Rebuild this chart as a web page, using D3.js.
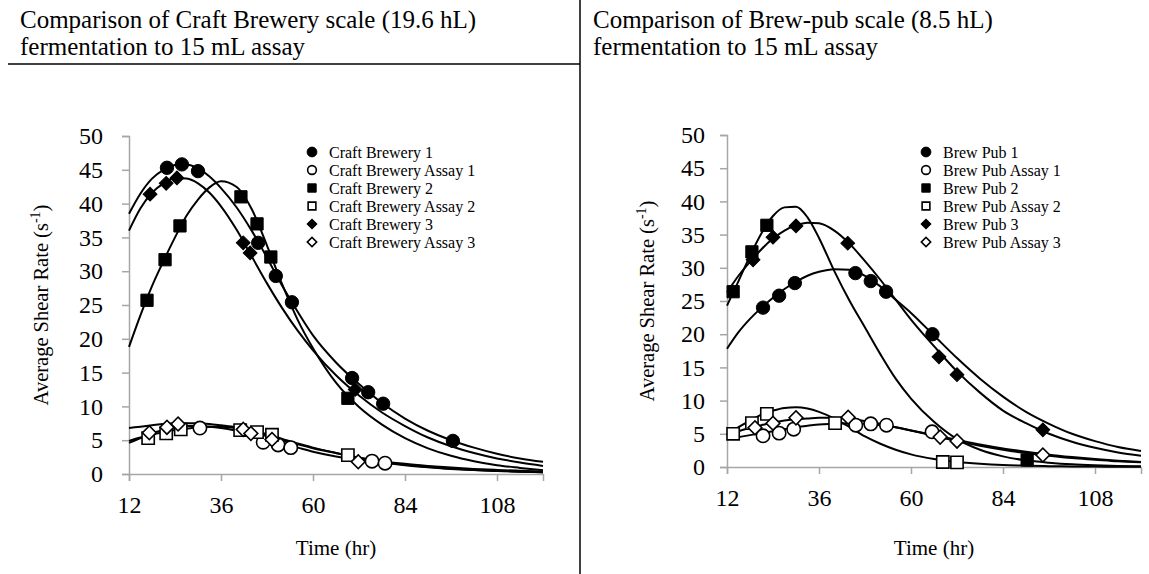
<!DOCTYPE html>
<html>
<head>
<meta charset="utf-8">
<script src="https://cdn.jsdelivr.net/npm/d3@7"></script>
<style>
  body { margin: 0; background: #fff; }
  svg text { font-family: "Liberation Serif", "Times New Roman", serif; fill: #000; }
</style>
</head>
<body>
<div id="container"></div>
<script>
// time axis ticks and fitted-curve sample times (hr)
var xTicks = [12, 36, 60, 84, 108];
var yTicks = [0, 5, 10, 15, 20, 25, 30, 35, 40, 45, 50];
var fitTimes = [12, 15, 18, 21, 24, 27, 30, 33, 36, 40, 44, 48, 52, 56, 60, 66, 72, 78, 84, 90, 96, 102, 108, 114, 120];

// ---- Craft brewery panel ----
var craftNames = ["Craft Brewery 1", "Craft Brewery Assay 1", "Craft Brewery 2",
  "Craft Brewery Assay 2", "Craft Brewery 3", "Craft Brewery Assay 3"];

// measured points [time, shear rate]
var craft1Pts = [[21.9, 45.3], [25.8, 45.8], [30, 44.8], [45.7, 34.2], [50.3, 29.3], [54.5, 25.4], [70.2, 14.2], [74.4, 12.1], [78.3, 10.4], [96.5, 4.9]];
var craftAssay1Pts = [[30.5, 6.8], [47, 4.7], [50.9, 4.3], [54.2, 3.9], [75.4, 1.9], [78.8, 1.6]];
var craft2Pts = [[16.7, 25.7], [21.4, 31.7], [25.3, 36.7], [41.2, 41.0], [45.4, 37.0], [49, 32.1], [69.1, 11.2]];
var craftAssay2Pts = [[17, 5.3], [21.7, 6.0], [25.5, 6.6], [41, 6.5], [45.4, 6.2], [49.3, 5.8], [69.1, 2.8]];
var craft3Pts = [[17.5, 41.4], [21.7, 43.0], [24.5, 43.8], [41.8, 34.2], [43.6, 32.7], [71, 12.5]];
var craftAssay3Pts = [[17.3, 6.1], [21.9, 6.9], [24.8, 7.4], [41.8, 6.6], [43.8, 6.0], [49.3, 5.1], [71.8, 1.8]];

// fitted curves, read at fitTimes
var craft1Fit = [38.5, 41.5, 43.7, 45.0, 45.7, 45.8, 45.2, 44.0, 42.3, 39.5, 36.0, 32.0, 27.8, 24.0, 20.5, 16.5, 13.3, 10.5, 8.2, 6.4, 5.0, 3.9, 3.0, 2.3, 1.8];
var craftAssay1Fit = [4.6, 5.3, 6.0, 6.5, 6.9, 7.1, 7.1, 7.0, 6.8, 6.4, 5.9, 5.2, 4.5, 3.9, 3.3, 2.6, 2.1, 1.7, 1.3, 1.0, 0.75, 0.58, 0.45, 0.35, 0.27];
var craft2Fit = [18.8, 23.5, 27.8, 31.5, 35.0, 38.2, 40.6, 42.4, 43.3, 42.5, 39.2, 33.8, 28.0, 22.8, 18.6, 13.5, 9.9, 7.3, 5.3, 3.8, 2.7, 1.9, 1.3, 0.9, 0.55];
var craftAssay2Fit = [4.9, 5.4, 5.8, 6.2, 6.5, 6.7, 6.9, 7.0, 7.0, 6.8, 6.5, 5.9, 5.2, 4.5, 3.9, 3.1, 2.4, 1.8, 1.4, 1.05, 0.8, 0.6, 0.45, 0.35, 0.25];
var craft3Fit = [36.0, 39.3, 41.6, 43.0, 43.8, 43.7, 43.0, 41.6, 39.6, 36.2, 32.2, 28.2, 24.5, 21.2, 18.3, 14.6, 11.6, 9.1, 7.1, 5.4, 4.1, 3.1, 2.3, 1.7, 1.2];
var craftAssay3Fit = [6.8, 7.0, 7.2, 7.4, 7.5, 7.5, 7.5, 7.4, 7.2, 6.9, 6.4, 5.7, 5.0, 4.4, 3.8, 3.1, 2.4, 1.9, 1.5, 1.2, 0.95, 0.75, 0.6, 0.48, 0.38];

// ---- Brew-pub panel ----
var pubNames = ["Brew Pub 1", "Brew Pub Assay 1", "Brew Pub 2",
  "Brew Pub Assay 2", "Brew Pub 3", "Brew Pub Assay 3"];

var pub1Pts = [[21.4, 24.0], [25.6, 25.8], [29.7, 27.7], [45.5, 29.2], [49.5, 28.0], [53.5, 26.4], [65.6, 20.0]];
var pubAssay1Pts = [[21.4, 4.7], [25.6, 5.1], [29.4, 5.7], [45.6, 6.3], [49.5, 6.5], [53.6, 6.3], [65.5, 5.3]];
var pub2Pts = [[13.6, 26.4], [18.5, 32.4], [22.4, 36.4], [90.3, 1.05]];
var pubAssay2Pts = [[13.6, 5.0], [18.5, 6.6], [22.4, 8.0], [40.2, 6.6], [68.3, 0.75], [72, 0.7]];
var pub3Pts = [[18.8, 31.2], [24, 34.6], [30, 36.3], [43.5, 33.7], [67.3, 16.6], [72, 13.9], [94.4, 5.6]];
var pubAssay3Pts = [[19.3, 5.9], [24, 6.6], [30, 7.4], [43.6, 7.5], [67.6, 4.5], [72, 3.9], [94.4, 1.8]];

var pub1Fit = [17.8, 20.3, 22.3, 24.0, 25.5, 26.8, 27.9, 28.8, 29.4, 29.8, 29.7, 28.8, 27.2, 25.2, 23.2, 19.8, 16.4, 13.3, 10.6, 8.3, 6.5, 5.0, 3.9, 3.0, 2.4];
var pubAssay1Fit = [4.2, 4.5, 4.8, 5.1, 5.4, 5.7, 6.0, 6.2, 6.4, 6.5, 6.6, 6.5, 6.3, 6.0, 5.5, 4.8, 4.1, 3.4, 2.8, 2.3, 1.85, 1.5, 1.2, 0.95, 0.75];
var pub2Fit = [24.3, 28.0, 31.8, 35.2, 37.8, 39.1, 39.2, 37.6, 34.5, 29.5, 25.0, 21.0, 17.0, 13.3, 10.3, 6.8, 4.2, 2.6, 1.6, 1.0, 0.65, 0.4, 0.25, 0.15, 0.1];
var pubAssay2Fit = [4.8, 6.0, 7.0, 7.9, 8.5, 8.9, 9.0, 8.8, 8.3, 7.3, 6.0, 4.6, 3.5, 2.6, 1.9, 1.2, 0.75, 0.48, 0.3, 0.2, 0.13, 0.09, 0.06, 0.04, 0.03];
var pub3Fit = [26.3, 28.8, 30.9, 32.8, 34.4, 35.6, 36.4, 36.8, 36.7, 35.6, 33.6, 31.0, 28.2, 25.2, 22.2, 18.2, 14.4, 11.2, 8.5, 6.6, 5.0, 3.8, 2.9, 2.2, 1.7];
var pubAssay3Fit = [4.9, 5.4, 5.9, 6.3, 6.7, 7.0, 7.2, 7.3, 7.4, 7.4, 7.3, 6.9, 6.5, 6.0, 5.5, 4.7, 3.9, 3.2, 2.6, 2.1, 1.7, 1.35, 1.1, 0.85, 0.7];

// marker shape / fill for the six series (same order in both panels)
// diamonds are squares turned 45 degrees, like the spreadsheet markers
var shapes = [d3.symbolCircle, d3.symbolCircle, d3.symbolSquare, d3.symbolSquare, d3.symbolSquare, d3.symbolSquare];
var turn = [0, 0, 0, 0, 45, 45];
var filled = [true, false, true, false, true, false];
var symSize = [140, 140, 150, 150, 95, 95];
var legSize = [75, 60, 70, 60, 48, 44];

var svg = d3
  .select("#container")
  .append("svg")
  .attr("width", 1149)
  .attr("height", 574);

// vertical divider and title underline
svg.append("line").attr("x1", 580).attr("x2", 580).attr("y1", 0).attr("y2", 574)
  .attr("stroke", "#000").attr("stroke-width", 1.5);
svg.append("line").attr("x1", 8).attr("x2", 580).attr("y1", 64).attr("y2", 64)
  .attr("stroke", "#000").attr("stroke-width", 1.5);

function drawPanel(p) {
  var x = d3.scaleLinear().domain([12, 120]).range([p.left, p.left + 414]);
  var y = d3.scaleLinear().domain([0, 50]).range([p.bottom, p.top]);
  var g = svg.append("g");

  // title (two lines)
  g.append("text").attr("x", p.titleX).attr("y", 28).style("font-size", "25px").text(p.title[0]);
  g.append("text").attr("x", p.titleX).attr("y", 55).style("font-size", "25px").text(p.title[1]);

  // y axis
  var yAxis = g.append("g")
    .attr("transform", "translate(" + p.left + ",0)")
    .call(d3.axisLeft(y).tickValues(yTicks).tickSize(7).tickPadding(p.yPad));
  // x axis
  var xAxis = g.append("g")
    .attr("transform", "translate(0," + p.bottom + ")")
    .call(d3.axisBottom(x).tickValues(xTicks).tickSize(7).tickPadding(15));
  [yAxis, xAxis].forEach(function (a) {
    a.attr("font-family", "Liberation Serif, serif");
    a.select(".domain").attr("stroke", "#a6a6a6").attr("stroke-width", 1.5);
    a.selectAll(".tick line").attr("stroke", "#a6a6a6").attr("stroke-width", 1.5);
    a.selectAll("text").style("font-size", "24px");
  });

  // axis titles
  var yl = g.append("text")
    .attr("text-anchor", "middle")
    .attr("transform", "translate(" + p.yLabelX + "," + (p.top + p.bottom) / 2 + ") rotate(-90)")
    .style("font-size", "20.5px");
  yl.append("tspan").text("Average Shear Rate  (s");
  yl.append("tspan").attr("dy", -8).style("font-size", "14px").text("-1");
  yl.append("tspan").attr("dy", 8).text(")");

  g.append("text")
    .attr("text-anchor", "middle")
    .attr("x", p.left + 207)
    .attr("y", 555)
    .style("font-size", "21px")
    .text("Time (hr)");

  // fitted curves
  var line = d3.line()
    .x(function (d, i) { return x(fitTimes[i]); })
    .y(function (d) { return y(d); })
    .curve(d3.curveMonotoneX);
  g.selectAll(".fit")
    .data(p.fits)
    .enter()
    .append("path")
    .attr("class", "fit")
    .attr("fill", "none")
    .attr("stroke", "#000")
    .attr("stroke-width", 2)
    .attr("d", line);

  // measured points
  p.points.forEach(function (pts, s) {
    g.selectAll(".pt" + s)
      .data(pts)
      .enter()
      .append("path")
      .attr("class", "pt" + s)
      .attr("transform", function (d) {
        return "translate(" + x(d[0]) + "," + y(d[1]) + ") rotate(" + turn[s] + ")";
      })
      .attr("d", d3.symbol().type(shapes[s]).size(symSize[s]))
      .attr("fill", filled[s] ? "#000" : "#fff")
      .attr("stroke", "#000")
      .attr("stroke-width", filled[s] ? 1 : 1.6);
  });

  // legend
  p.names.forEach(function (name, s) {
    var ly = p.legY + s * 18;
    g.append("path")
      .attr("transform", "translate(" + p.legX + "," + ly + ") rotate(" + turn[s] + ")")
      .attr("d", d3.symbol().type(shapes[s]).size(legSize[s]))
      .attr("fill", filled[s] ? "#000" : "#fff")
      .attr("stroke", "#000")
      .attr("stroke-width", filled[s] ? 1 : 1.6);
    g.append("text")
      .attr("x", p.legX + 17)
      .attr("y", ly + 5.5)
      .style("font-size", "16px")
      .text(name);
  });
}

drawPanel({
  title: ["Comparison of Craft Brewery scale (19.6 hL)", "fermentation to 15 mL assay"],
  titleX: 20, left: 129, top: 136, bottom: 474, yPad: 19, yLabelX: 48,
  legX: 312, legY: 152,
  names: craftNames,
  fits: [craft1Fit, craftAssay1Fit, craft2Fit, craftAssay2Fit, craft3Fit, craftAssay3Fit],
  points: [craft1Pts, craftAssay1Pts, craft2Pts, craftAssay2Pts, craft3Pts, craftAssay3Pts]
});

drawPanel({
  title: ["Comparison of Brew-pub scale (8.5 hL)", "fermentation to 15 mL assay"],
  titleX: 593, left: 727, top: 135, bottom: 467, yPad: 15, yLabelX: 654,
  legX: 926, legY: 152,
  names: pubNames,
  fits: [pub1Fit, pubAssay1Fit, pub2Fit, pubAssay2Fit, pub3Fit, pubAssay3Fit],
  points: [pub1Pts, pubAssay1Pts, pub2Pts, pubAssay2Pts, pub3Pts, pubAssay3Pts]
});
</script>
</body>
</html>
